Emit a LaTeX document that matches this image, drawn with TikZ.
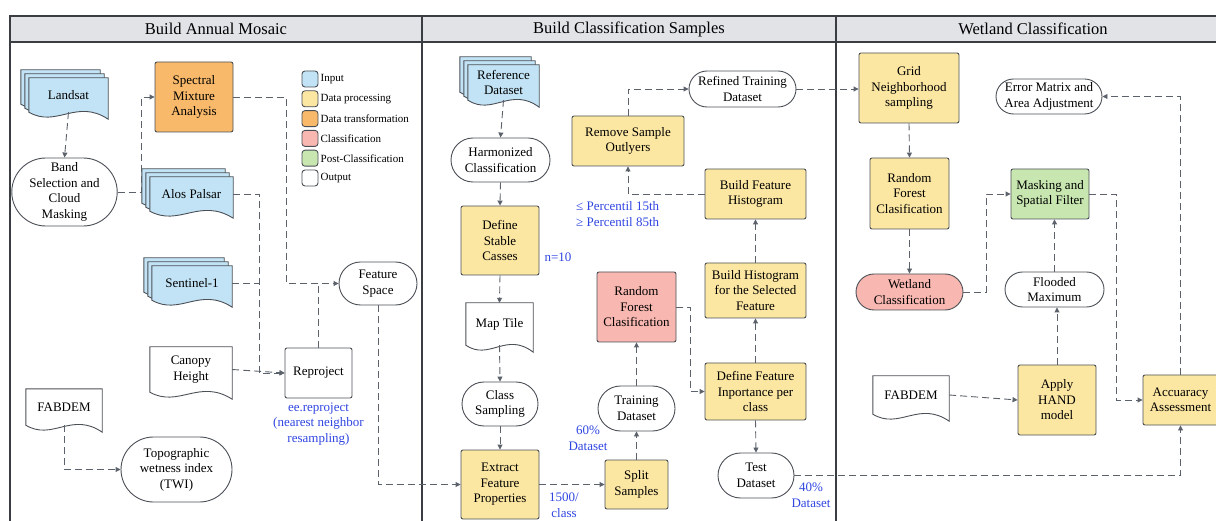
\documentclass[tikz,border=0pt]{standalone}
\usepackage{fontspec}
\setmainfont{Liberation Serif}
\usetikzlibrary{calc,arrows.meta,shapes.misc,backgrounds}
\definecolor{edgec}{HTML}{4B5057}
\definecolor{linec}{HTML}{5C626B}
\definecolor{framec}{HTML}{3A3D42}
\definecolor{headc}{HTML}{E1E3E7}
\definecolor{inblue}{HTML}{C2E3F5}
\definecolor{procc}{HTML}{FBE6A2}
\definecolor{transc}{HTML}{F8B96A}
\definecolor{classc}{HTML}{F8B7B0}
\definecolor{postc}{HTML}{C8E7B0}
\definecolor{notec}{HTML}{2F45E0}
\newcommand{\docshape}[3]{%
  \filldraw[draw=edgec,line width=0.9pt,fill=#3]
    ($(#1.north west)+(-#2,-#2)$) -- ($(#1.north east)+(-#2,-#2)$) -- ($(#1.south east)+(-#2,-#2+7)$)
    .. controls ($(#1.south west)!0.6!(#1.south east)+(-#2,-#2-14)$) and ($(#1.south west)!0.35!(#1.south east)+(-#2,-#2+16)$)
    .. ($(#1.south west)+(-#2,-#2)$) -- cycle;}
\begin{document}
\begin{tikzpicture}[x=1pt,y=-1pt,
  boxsize/.style 2 args={minimum width=#1,minimum height=#2},
  base/.style={draw=edgec,line width=0.9pt,align=center,inner sep=1pt,font=\fontsize{13}{15.5}\selectfont},
  proc/.style={base,rectangle,rounded corners=2pt,fill=procc},
  term/.style={base,rounded rectangle,fill=white},
  doc/.style={align=center,inner sep=1pt,font=\fontsize{13}{15.5}\selectfont},
  note/.style={text=notec,align=center,inner sep=1pt,font=\fontsize{13}{15.5}\selectfont},
  head/.style={font=\fontsize{16.5}{18}\selectfont},
  legbox/.style={draw=edgec,line width=0.9pt,rounded corners=3pt,minimum size=16,inner sep=0pt},
  flow/.style={draw=linec,line width=0.9pt,dash pattern=on 7pt off 4pt,-{Triangle[length=5pt,width=5pt]}},
  link/.style={draw=linec,line width=0.9pt,dash pattern=on 7pt off 4pt}]
\useasboundingbox (0,0) rectangle (1216,521);
\filldraw[draw=framec,line width=1.1pt,fill=headc] (10,16) rectangle (1240,42);
\draw[framec,line width=1.1pt] (10,42) -- (10,540) (422,16) -- (422,540) (836,16) -- (836,540);
\node[head] (h1) at (216,29) {Build Annual Mosaic};
\node[head] (h2) at (629,29) {Build Classification Samples};
\node[head] (h3) at (1033,29) {Wetland Classification};
\node[doc,boxsize={79}{34}] (land) at (68.5,95) {Landsat};
\node[proc,boxsize={78}{70},fill=transc] (sma) at (194,97) {Spectral\\Mixture\\Analysis};
\node[term,boxsize={87}{68}] (band) at (64.5,192) {Band\\Selection and\\Cloud\\Masking};
\node[doc,boxsize={83}{34}] (alos) at (191.5,194) {Alos Palsar};
\node[doc,boxsize={80}{34}] (sen) at (192,283) {Sentinel-1};
\node[doc,boxsize={82}{45}] (can) at (191,369.5) {Canopy\\Height};
\node[base,boxsize={67}{50},rounded corners=2pt] (rep) at (318.5,373) {Reproject};
\node[term,boxsize={80}{43}] (fs) at (378,283.5) {Feature\\Space};
\node[doc,boxsize={76}{36}] (fab1) at (64,407) {FABDEM};
\node[term,boxsize={113}{65}] (twi) at (176.5,469.5) {Topographic\\wetness index\\(TWI)};
\node[note,anchor=north] (repnote) at ($(rep.south)+(0,3)$) {ee.reproject\\(nearest neighbor\\resampling)};
\foreach \c/\t [count=\i] in {inblue/Input,procc/Data processing,transc/Data transformation,classc/Classification,postc/Post-Classification,white/Output} {
  \node[legbox,fill=\c] (leg\i) at (310,{79+19.8*(\i-1)}) {};
  \node[anchor=west,inner sep=2pt,font=\fontsize{11}{13}\selectfont] (legt\i) at (leg\i.east) {\t};
}
\node[doc,boxsize={71}{35}] (ref) at (503.5,82.5) {Reference\\Dataset};
\node[term,boxsize={101}{44}] (harm) at (500.5,160) {Harmonized\\Classification};
\node[proc,boxsize={78}{69}] (stab) at (500,240.5) {Define\\Stable\\Casses};
\node[doc,boxsize={67}{42}] (map) at (499.5,324) {Map Tile};
\node[term,boxsize={78}{44}] (cls) at (500,404) {Class\\Sampling};
\node[proc,boxsize={78}{69}] (efp) at (500,484.5) {Extract\\Feature\\Properties};
\node[proc,boxsize={63}{49}] (split) at (636.5,484.5) {Split\\Samples};
\node[term,boxsize={79}{45}] (train) at (636.5,408.5) {Training\\Dataset};
\node[proc,boxsize={79}{70},fill=classc] (rf1) at (636.5,307) {Random\\Forest\\Clasification};
\node[proc,boxsize={101}{57}] (imp) at (755.5,391.5) {Define Feature\\Inportance per\\class};
\node[proc,boxsize={101}{55}] (hsel) at (755.5,290.5) {Build Histogram\\for the Selected\\Feature};
\node[proc,boxsize={101}{50}] (hfeat) at (755.5,194) {Build Feature\\Histogram};
\node[proc,boxsize={112}{50}] (rso) at (628,141) {Remove Sample\\Outlyers};
\node[term,boxsize={109}{36}] (refined) at (742.5,89) {Refined Training\\Dataset};
\node[term,boxsize={78}{45}] (test) at (756,475.5) {Test\\Dataset};
\node[note] (n10) at (558,257) {n=10};
\node[note,align=left,anchor=west] (pct) at (575,214) {≤ Percentil 15th\\≥ Percentil 85th};
\node[note] (perclass) at (564,505) {1500/\\class};
\node[note] (sixty) at (588,438) {60\%\\Dataset};
\node[note] (forty) at (811,495) {40\%\\Dataset};
\node[proc,boxsize={100}{70}] (grid) at (909,88) {Grid\\Neighborhood\\sampling};
\node[proc,boxsize={79}{71}] (rf2) at (909.5,193.5) {Random\\Forest\\Clasification};
\node[term,boxsize={109}{36},fill=classc] (wet) at (909.5,292) {Wetland\\Classification};
\node[term,boxsize={108}{35}] (err) at (1049,96.5) {Error Matrix and\\Area Adjustment};
\node[proc,boxsize={78}{50},fill=postc] (mask) at (1050,194) {Masking and\\Spatial Filter};
\node[term,boxsize={101}{35}] (flood) at (1054.5,289.5) {Flooded\\Maximum};
\node[proc,boxsize={78}{70}] (hand) at (1057,400) {Apply\\HAND\\model};
\node[doc,boxsize={76}{38}] (fab2) at (911,395) {FABDEM};
\node[proc,boxsize={75}{50}] (acc) at (1180.5,400) {Accuaracy\\Assessment};
\begin{scope}[on background layer]
  \foreach \n/\k/\c in {land/2/inblue,alos/2/inblue,sen/2/inblue,ref/2/inblue,can/0/white,map/0/white,fab1/0/white,fab2/0/white} {
    \foreach \s in {\k,...,0} {\docshape{\n}{4*\s}{\c}}
  }
\end{scope}
\draw[flow] (land.south) -- (band.north);
\draw[flow] (band.east) -- ++(24,0) |- (sma.west);
\draw[flow] (sma.east) -- ++(53,0) |- (fs.west);
\draw[link] (rep.north) -- (rep.north |- fs.west);
\draw[flow] (alos.east) -- ++(26,0) |- (rep.west);
\draw[link] (sen.east) -- ++(27,0);
\draw[flow] (can.east) -- (rep.west);
\draw[flow] (fs.south) |- (efp.west);
\draw[flow] (fab1.south) |- (twi.west);
\draw[flow] (ref.south) -- (harm.north);
\draw[flow] (harm.south) -- (stab.north);
\draw[flow] (stab.south) -- (map.north);
\draw[flow] (map.south) -- (cls.north);
\draw[flow] (cls.south) -- (efp.north);
\draw[flow] (efp.east) -- (split.west);
\draw[flow] (split.north) -- (train.south);
\draw[flow] (train.north) -- (rf1.south);
\draw[flow] (rf1.east) -- ++(14,0) |- (imp.west);
\draw[flow] (imp.north) -- (hsel.south);
\draw[flow] (hsel.north) -- (hfeat.south);
\draw[flow] (hfeat.west) -| (rso.south);
\draw[flow] (rso.north) |- (refined.west);
\draw[flow] (refined.east) -- (refined.east -| grid.west);
\draw[flow] (imp.south) -- (test.north);
\draw[flow] (test.east) -| (acc.south);
\draw[flow] (grid.south) -- (rf2.north);
\draw[flow] (rf2.south) -- (wet.north);
\draw[flow] (wet.east) -- ++(23,0) |- (mask.west);
\draw[flow] (flood.north) -- (flood.north |- mask.south);
\draw[flow] (hand.north) -- (hand.north |- flood.south);
\draw[flow] (fab2.east) -- (hand.west);
\draw[flow] (mask.east) -- ++(27,0) |- (acc.west);
\draw[flow] (acc.north) |- (err.east);
\end{tikzpicture}
\end{document}
